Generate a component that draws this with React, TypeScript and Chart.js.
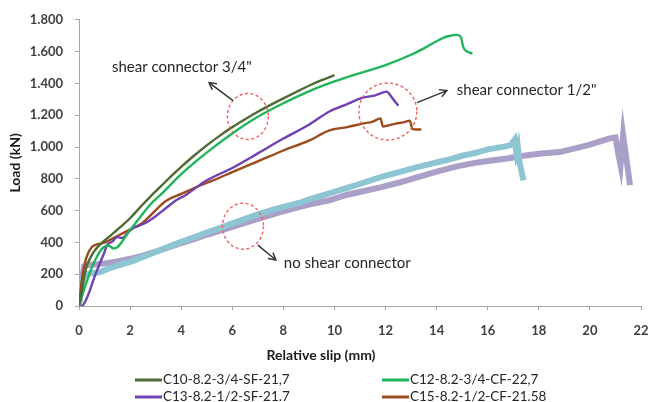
import { useEffect, useRef } from "react";
import { Chart, registerables } from "chart.js";

Chart.register(...registerables);

// Axis ticks
const slipTicks = [0, 2, 4, 6, 8, 10, 12, 14, 16, 18, 20, 22];
const loadTicks = [0, 200, 400, 600, 800, 1000, 1200, 1400, 1600, 1800];

// C10-8.2-3/4-SF-21,7
const c10Slip = [0, 0.1, 0.2, 0.3, 0.45, 0.6, 0.8, 1.0, 1.3, 1.6, 2.0, 2.4, 2.8, 3.2, 3.6, 4.0, 4.5, 5.0, 5.5, 6.0, 6.5, 7.0, 7.5, 8.0, 8.5, 9.0, 9.5, 10.0];
const c10Load = [0, 90, 180, 250, 305, 345, 382, 412, 452, 494, 552, 622, 690, 752, 815, 875, 945, 1010, 1070, 1125, 1175, 1222, 1265, 1306, 1346, 1385, 1420, 1452];

// C12-8.2-3/4-CF-22,7
const c12Slip = [0, 0.15, 0.36, 0.5, 0.7, 0.95, 1.15, 1.35, 1.5, 1.6, 1.8, 2.0, 2.4, 2.8, 3.2, 3.6, 4.0, 5.0, 6.0, 7.0, 8.0, 9.0, 10.0, 11.0, 12.0, 13.0, 13.5, 14.0, 14.4, 14.8, 14.95, 15.05, 15.2, 15.4];
const c12Load = [0, 80, 180, 240, 310, 368, 380, 362, 370, 386, 432, 478, 560, 640, 700, 765, 830, 965, 1085, 1190, 1275, 1350, 1412, 1465, 1515, 1580, 1620, 1665, 1695, 1705, 1690, 1625, 1600, 1588];

// C13-8.2-1/2-SF-21.7
const c13Slip = [0, 0.12, 0.25, 0.43, 0.6, 0.82, 1.0, 1.1, 1.3, 1.5, 1.7, 1.9, 2.1, 2.4, 2.7, 3.0, 3.4, 3.8, 4.2, 4.5, 5.0, 6.0, 7.0, 8.0, 9.0, 9.8, 10.5, 11.1, 11.6, 12.05, 12.2, 12.35, 12.5];
const c13Load = [0, 0, 30, 100, 180, 270, 340, 383, 405, 433, 428, 458, 488, 508, 532, 565, 615, 665, 700, 735, 790, 868, 960, 1053, 1140, 1223, 1270, 1310, 1325, 1348, 1322, 1290, 1260];

// C15-8.2-1/2-CF-21.58
const c15Slip = [0, 0.1, 0.23, 0.35, 0.5, 0.65, 0.82, 1.0, 1.2, 1.5, 1.8, 2.1, 2.47, 2.8, 3.4, 4.0, 4.6, 5.25, 6.0, 7.0, 8.0, 9.0, 9.8, 10.5, 11.1, 11.5, 11.8, 11.9, 12.1, 12.4, 12.7, 12.95, 13.05, 13.2, 13.4];
const c15Load = [0, 150, 270, 330, 370, 385, 392, 398, 415, 440, 465, 490, 520, 570, 660, 705, 748, 790, 842, 910, 978, 1040, 1104, 1125, 1147, 1160, 1180, 1128, 1135, 1147, 1155, 1166, 1115, 1110, 1110];

// Specimen without shear connector (blue)
const nsaSlip = [0, 0.08, 0.18, 0.3, 0.5, 0.82, 1.2, 1.6, 2.1, 2.6, 3.0, 3.5, 3.95, 4.5, 5.0, 5.5, 6.0, 6.5, 7.0, 7.5, 8.0, 8.65, 9.2, 9.8, 10.4, 11.0, 11.8, 12.5, 13.2, 13.8, 14.4, 15.0, 15.5, 16.0, 16.5, 16.9, 17.05, 17.12, 17.18, 17.25, 17.4];
const nsaLoad = [0, 110, 185, 200, 206, 214, 238, 258, 282, 314, 340, 372, 400, 432, 462, 490, 520, 548, 576, 602, 624, 650, 680, 708, 738, 768, 810, 840, 872, 895, 918, 945, 962, 985, 998, 1012, 1045, 965, 1000, 900, 790];

// Specimen without shear connector (lilac)
const nsbSlip = [0, 0.1, 0.2, 0.35, 0.7, 1.0, 1.5, 2.1, 2.6, 3.0, 3.5, 4.0, 4.5, 5.0, 5.5, 6.0, 6.5, 7.0, 7.5, 8.0, 8.5, 9.2, 9.8, 10.5, 11.2, 11.8, 12.5, 13.2, 14.0, 14.8, 15.5, 16.0, 16.75, 17.4, 18.0, 18.8, 19.5, 20.0, 20.5, 20.8, 21.0, 21.12, 21.2, 21.3, 21.45, 21.57];
const nsbLoad = [0, 150, 250, 258, 262, 268, 280, 300, 322, 342, 368, 395, 420, 448, 472, 498, 522, 548, 572, 596, 618, 645, 665, 700, 725, 746, 775, 808, 845, 878, 900, 912, 928, 945, 958, 968, 995, 1015, 1040, 1055, 1060, 950, 885, 1075, 900, 760];

const seriesNames = ["C10-8.2-3/4-SF-21,7", "C12-8.2-3/4-CF-22,7", "C13-8.2-1/2-SF-21.7", "C15-8.2-1/2-CF-21.58"];
const seriesColors = ["#4f6b35", "#1fb55a", "#7041b0", "#9b4b1e"];
const bandColors = ["#8ec5d3", "#aa9fc7"];

const calloutTexts = ['shear connector 3/4"', 'shear connector 1/2"', "no shear connector"];

// Callouts: label anchor, dashed ring and arrow, all in data units
const callouts = [
  { text: calloutTexts[0], tx: 1.29, ty: 1505, cx: 6.61, cy: 1192, rx: 20.5, ry: 23, ax0: 6.03, ay0: 1292, ax1: 5.09, ay1: 1405 },
  { text: calloutTexts[1], tx: 14.79, ty: 1355, cx: 12.09, cy: 1223, rx: 29, ry: 28.5, ax0: 13.23, ay0: 1279, ax1: 14.4, ay1: 1355 },
  { text: calloutTexts[2], tx: 8.02, ty: 270, cx: 6.42, cy: 502, rx: 20.5, ry: 23, ax0: 7.0, ay0: 383, ax1: 7.71, ay1: 289 },
];

const pts = (xs: number[], ys: number[]) => xs.map((v, i) => ({ x: v, y: ys[i] }));

const overlay = {
  id: "overlay",
  afterDatasetsDraw(chart: any) {
    const { ctx, scales } = chart;
    const xs = scales.x;
    const ys = scales.y;
    ctx.save();
    for (const c of callouts) {
      // dashed ring
      ctx.strokeStyle = "#f0605a";
      ctx.lineWidth = 1.4;
      ctx.setLineDash([3, 2.5]);
      ctx.beginPath();
      ctx.ellipse(xs.getPixelForValue(c.cx), ys.getPixelForValue(c.cy), c.rx, c.ry, 0, 0, Math.PI * 2);
      ctx.stroke();
      ctx.setLineDash([]);
      // arrow
      const x0 = xs.getPixelForValue(c.ax0);
      const y0 = ys.getPixelForValue(c.ay0);
      const x1 = xs.getPixelForValue(c.ax1);
      const y1 = ys.getPixelForValue(c.ay1);
      const ang = Math.atan2(y1 - y0, x1 - x0);
      ctx.strokeStyle = "#333333";
      ctx.lineWidth = 1.4;
      ctx.beginPath();
      ctx.moveTo(x0, y0);
      ctx.lineTo(x1, y1);
      const h = 8;
      ctx.moveTo(x1 - h * Math.cos(ang - 0.5), y1 - h * Math.sin(ang - 0.5));
      ctx.lineTo(x1, y1);
      ctx.lineTo(x1 - h * Math.cos(ang + 0.5), y1 - h * Math.sin(ang + 0.5));
      ctx.stroke();
      // label
      ctx.fillStyle = "#262626";
      ctx.font = "15px Lato";
      ctx.textAlign = "left";
      ctx.textBaseline = "middle";
      ctx.fillText(c.text, xs.getPixelForValue(c.tx), ys.getPixelForValue(c.ty));
    }
    ctx.restore();
  },
  afterDraw(chart: any) {
    const { ctx, chartArea } = chart;
    ctx.save();
    // axis titles
    ctx.fillStyle = "#1a1a1a";
    ctx.font = "bold 14px Lato";
    ctx.textAlign = "center";
    ctx.textBaseline = "middle";
    ctx.fillText("Relative slip (mm)", 321, chartArea.bottom + 49);
    ctx.save();
    ctx.translate(15, (chartArea.top + chartArea.bottom) / 2);
    ctx.rotate(-Math.PI / 2);
    ctx.fillText("Load (kN)", 0, 0);
    ctx.restore();
    // legend, two columns
    const colX = [135, 382];
    const rowY = [chartArea.bottom + 74, chartArea.bottom + 91];
    ctx.font = "13.5px Lato";
    ctx.textAlign = "left";
    seriesNames.forEach((name, i) => {
      const lx = colX[i % 2];
      const ly = rowY[Math.floor(i / 2)];
      ctx.strokeStyle = seriesColors[i];
      ctx.lineWidth = 3;
      ctx.beginPath();
      ctx.moveTo(lx, ly);
      ctx.lineTo(lx + 27, ly);
      ctx.stroke();
      ctx.fillStyle = "#262626";
      ctx.fillText(name, lx + 28, ly);
    });
    ctx.restore();
  },
};

export default function App() {
  const ref = useRef<HTMLCanvasElement | null>(null);

  useEffect(() => {
    if (!ref.current) return;
    const mainSets = [
      [c10Slip, c10Load],
      [c12Slip, c12Load],
      [c13Slip, c13Load],
      [c15Slip, c15Load],
    ].map(([xs, ys], i) => ({
      label: seriesNames[i],
      data: pts(xs, ys),
      borderColor: seriesColors[i],
      borderWidth: 2.4,
      pointRadius: 0,
      cubicInterpolationMode: "monotone",
    }));
    const bandSets = [
      [nsaSlip, nsaLoad],
      [nsbSlip, nsbLoad],
    ].map(([xs, ys], i) => ({
      label: calloutTexts[2] + (i === 0 ? " A" : " B"),
      data: pts(xs, ys),
      borderColor: bandColors[i],
      borderWidth: 6,
      pointRadius: 0,
      tension: 0,
    }));

    const chart = new Chart(ref.current, {
      type: "line",
      data: { datasets: [...mainSets, ...bandSets] },
      plugins: [overlay],
      options: {
        responsive: false,
        animation: false,
        locale: "de-DE",
        layout: { padding: { top: 19, right: 0, left: 0, bottom: 0 } },
        plugins: { legend: { display: false }, tooltip: { enabled: false } },
        scales: {
          x: {
            type: "linear",
            min: 0,
            max: 22,
            afterBuildTicks: (s: any) => {
              s.ticks = slipTicks.map((v) => ({ value: v }));
            },
            afterFit: (s: any) => {
              s.height = 96;
              s.paddingRight = 11;
              s.paddingLeft = 0;
            },
            grid: { drawOnChartArea: false, color: "#a6a6a6", tickLength: 4 },
            border: { color: "#a6a6a6" },
            ticks: { padding: 13, color: "#404040", font: { family: "Lato", size: 13, weight: "bold" }, maxRotation: 0 },
          },
          y: {
            type: "linear",
            min: 0,
            max: 1800,
            afterBuildTicks: (s: any) => {
              s.ticks = loadTicks.map((v) => ({ value: v }));
            },
            afterFit: (s: any) => {
              s.width = 79;
            },
            grid: { drawOnChartArea: false, color: "#a6a6a6", tickLength: 4 },
            border: { color: "#a6a6a6" },
            ticks: { padding: 12, color: "#404040", font: { family: "Lato", size: 13, weight: "bold" } },
          },
        },
      },
    } as any);
    return () => chart.destroy();
  }, []);

  return (
    <div style={{ position: "fixed", left: 0, top: 0, width: 652, height: 402, background: "#ffffff" }}>
      <canvas ref={ref} width={652} height={402} />
    </div>
  );
}
